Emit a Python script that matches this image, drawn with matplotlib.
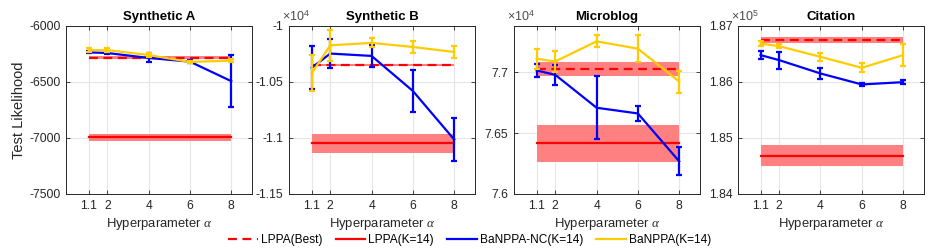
import matplotlib
matplotlib.use('Agg')
import matplotlib.pyplot as plt
import numpy as np
from matplotlib.ticker import FuncFormatter

plt.rcParams['font.family'] = ['Liberation Sans', 'DejaVu Sans']
plt.rcParams['mathtext.fontset'] = 'custom'
plt.rcParams['mathtext.rm'] = 'Liberation Sans'
plt.rcParams['mathtext.it'] = 'Liberation Serif:italic'

alphas = [1.1, 2, 4, 6, 8]
alpha_labels = ['1.1', '2', '4', '6', '8']

titles = ['Synthetic A', 'Synthetic B', 'Microblog', 'Citation']
scale_exp = [None, 4, 4, 5]

# LPPA(Best): mean, half-width of band
lppa_best = [-6286, -1.0352, 7.7028, 1.86745]
lppa_best_err = [13, 0.001, 0.0056, 0.0005]
# LPPA(K=14)
lppa_k14 = [-6995, -1.1047, 7.6415, 1.84682]
lppa_k14_err = [32, 0.0085, 0.015, 0.0019]

# BaNPPA-NC(K=14)
nc_mean = [
    [-6236, -6242, -6286, -6319, -6493],
    [-1.0373, -1.0247, -1.0268, -1.0581, -1.1014],
    [7.7014, 7.6978, 7.6708, 7.6661, 7.6268],
    [1.86478, 1.86389, 1.86151, 1.85955, 1.85996],
]
nc_err = [
    [10, 10, 40, 12, 233],
    [0.019, 0.013, 0.010, 0.019, 0.019],
    [0.005, 0.008, 0.026, 0.0065, 0.0114],
    [0.0007, 0.0015, 0.001, 0.0002, 0.0004],
]

# BaNPPA(K=14)
ba_mean = [
    [-6216, -6216, -6260, -6322, -6310],
    [-1.0423, -1.0173, -1.0152, -1.0188, -1.0233],
    [7.7110, 7.7088, 7.7253, 7.7193, 7.6923],
    [1.86685, 1.86638, 1.86448, 1.86252, 1.86478],
]
ba_err = [
    [15, 15, 20, 12, 15],
    [0.016, 0.014, 0.004, 0.005, 0.005],
    [0.008, 0.0085, 0.005, 0.011, 0.009],
    [0.0005, 0.0004, 0.0007, 0.0008, 0.002],
]

ylims = [(-7500, -6000), (-1.15, -1.0), (7.6, 7.738), (1.84, 1.87)]
yticks = [
    [-7500, -7000, -6500, -6000],
    [-1.15, -1.1, -1.05, -1.0],
    [7.6, 7.65, 7.7],
    [1.84, 1.85, 1.86, 1.87],
]

red = (1.0, 0.0, 0.0)
band = (1.0, 0.5, 0.5)
blue = (0.0, 0.0, 1.0)
yellow = (1.0, 0.8, 0.0)
dark = (0.15, 0.15, 0.15)

fig = plt.figure(figsize=(9.34, 2.49), dpi=100)
lefts = [0.0707, 0.3094, 0.5503, 0.790]
handles = None
for i in range(4):
    ax = fig.add_axes([lefts[i], 0.221, 0.199, 0.675])
    x0, x1 = alphas[0], alphas[-1]
    ax.fill_between([x0, x1], lppa_best[i] - lppa_best_err[i], lppa_best[i] + lppa_best_err[i],
                    color=band, lw=0, zorder=2)
    ax.fill_between([x0, x1], lppa_k14[i] - lppa_k14_err[i], lppa_k14[i] + lppa_k14_err[i],
                    color=band, lw=0, zorder=2)
    h1, = ax.plot([x0, x1], [lppa_best[i]] * 2, color=red, lw=1.6, ls=(0, (4, 2.5)), zorder=3)
    h2, = ax.plot([x0, x1], [lppa_k14[i]] * 2, color=red, lw=1.6, zorder=3)
    h3 = ax.errorbar(alphas, nc_mean[i], yerr=nc_err[i], color=blue, lw=1.6,
                     elinewidth=1.6, capsize=2, capthick=1.6, zorder=4)
    h4 = ax.errorbar(alphas, ba_mean[i], yerr=ba_err[i], color=yellow, lw=1.6,
                     elinewidth=1.6, capsize=2, capthick=1.6, zorder=5)
    handles = [h1, h2, h3[0], h4[0]]

    ax.set_xlim(0, 9)
    ax.set_ylim(*ylims[i])
    ax.set_xticks(alphas)
    ax.set_xticklabels(alpha_labels)
    ax.set_yticks(yticks[i])
    ax.yaxis.set_major_formatter(FuncFormatter(lambda v, p: ('%g' % v)))
    ax.grid(True, color=(0.9, 0.9, 0.9), lw=0.8, zorder=0)
    ax.set_axisbelow(True)
    ax.tick_params(direction='in', top=True, right=True, length=3, width=0.6,
                   labelsize=8.7, colors=dark, pad=4)
    for s in ax.spines.values():
        s.set_color(dark)
        s.set_linewidth(0.7)
    ax.set_title(titles[i], fontsize=9.5, fontweight='bold', pad=4)
    ax.set_xlabel(r'Hyperparameter $\mathit{\alpha}$', fontsize=9.4, color=dark, labelpad=3)
    if i == 0:
        ax.set_ylabel('Test Likelihood', fontsize=10.5, color=dark, labelpad=2)
    if scale_exp[i] is not None:
        ax.text(-0.035, 1.01, r'$\times10^{%d}$' % scale_exp[i], transform=ax.transAxes,
                ha='left', va='bottom', fontsize=9, color=(0.3, 0.3, 0.3))

fig.legend(handles, ['LPPA(Best)', 'LPPA(K=14)', 'BaNPPA-NC(K=14)', 'BaNPPA(K=14)'],
           loc='center', bbox_to_anchor=(0.503, 0.036), ncol=4, frameon=False,
           fontsize=8.6, handlelength=2.5, columnspacing=1.1, handletextpad=0.25,
           borderpad=0.2)

fig.savefig('out.png', dpi=100)
